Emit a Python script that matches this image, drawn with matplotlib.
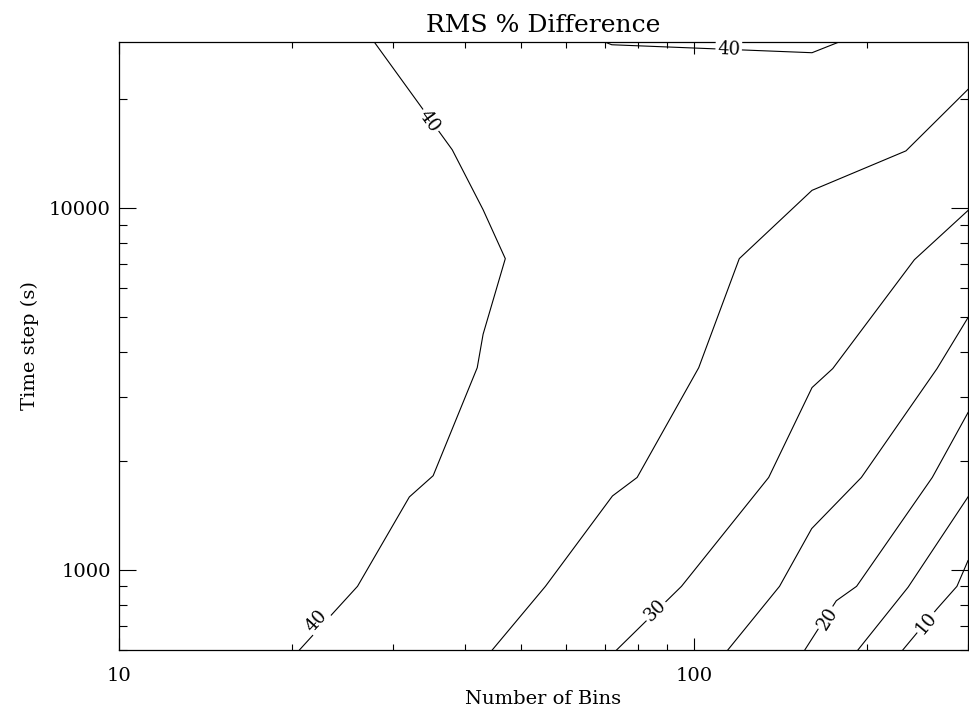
import numpy as np
import matplotlib
matplotlib.use("Agg")
import matplotlib.pyplot as plt
from matplotlib.ticker import FixedLocator, FixedFormatter, LogLocator, NullFormatter

plt.rcParams["font.family"] = ["DejaVu Serif"]

# contour paths: (number of bins, time step in s)
lev40a_bins = [27.8, 38, 43, 47, 43, 42, 35.2, 32, 26, 20.6]
lev40a_time = [28800, 14500, 9900, 7250, 4480, 3620, 1820, 1590, 900, 600]
lev40b_bins = [70, 72, 160.6, 179]
lev40b_time = [28800, 28300, 26900, 28800]
lev35_bins = [44.6, 55.2, 72.2, 79.7, 102, 120, 160.6, 234, 300]
lev35_time = [600, 900, 1600, 1800, 3620, 7250, 11200, 14400, 21300]
lev30_bins = [73.4, 95.2, 135, 160.6, 174.5, 242, 300]
lev30_time = [600, 900, 1800, 3190, 3600, 7200, 9850]
lev25_bins = [114.6, 141, 160.4, 195.7, 265, 300]
lev25_time = [600, 900, 1300, 1800, 3600, 4980]
lev20_bins = [156, 177, 192, 260, 300]
lev20_time = [600, 821, 900, 1800, 2720]
lev15_bins = [193, 236, 300]
lev15_time = [600, 895, 1590]
lev10_bins = [231, 265, 287, 300]
lev10_time = [600, 780, 900, 1060]

paths = [
    (lev40a_bins, lev40a_time), (lev40b_bins, lev40b_time),
    (lev35_bins, lev35_time), (lev30_bins, lev30_time),
    (lev25_bins, lev25_time), (lev20_bins, lev20_time),
    (lev15_bins, lev15_time), (lev10_bins, lev10_time),
]

# labels: text, position, index into paths
label_text = ["40", "40", "40", "30", "20", "10"]
label_bins = [34.7, 22.1, 115, 85.8, 171, 254]
label_time = [17400, 723, 27400, 770, 731, 713]
label_path = [0, 0, 1, 3, 5, 7]

x_ticks = [10, 100]
x_ticklabels = ["10", "100"]
y_ticks = [1000, 10000]
y_ticklabels = ["1000", "10000"]


def seg_angle(ax, xs, ys, x0, y0):
    pts = ax.transData.transform(np.column_stack([xs, ys]))
    p = ax.transData.transform((x0, y0))
    best, ang = None, 0.0
    for a, b in zip(pts[:-1], pts[1:]):
        d = b - a
        t = np.clip(np.dot(p - a, d) / np.dot(d, d), 0, 1)
        dist = np.hypot(*(a + t * d - p))
        if best is None or dist < best:
            best = dist
            ang = np.degrees(np.arctan2(d[1], d[0]))
    if ang > 90:
        ang -= 180
    elif ang <= -90:
        ang += 180
    return ang


fig = plt.figure(figsize=(9.69, 7.10), dpi=100)
ax = fig.add_axes([119 / 969, 60 / 710, 849 / 969, 608 / 710])
ax.set_xscale("log")
ax.set_yscale("log")
ax.set_xlim(10, 300)
ax.set_ylim(600, 28800)

for xs, ys in paths:
    ax.plot(xs, ys, color="black", lw=0.8, zorder=1)

for txt, xb, yt, k in zip(label_text, label_bins, label_time, label_path):
    rot = seg_angle(ax, paths[k][0], paths[k][1], xb, yt)
    ax.text(xb, yt, txt, fontsize=13, rotation=rot, rotation_mode="anchor",
            ha="center", va="center", zorder=3,
            bbox=dict(boxstyle="square,pad=0.1", fc="white", ec="none"))

ax.xaxis.set_major_locator(FixedLocator(x_ticks))
ax.xaxis.set_major_formatter(FixedFormatter(x_ticklabels))
ax.xaxis.set_minor_locator(LogLocator(base=10, subs=np.arange(2, 10)))
ax.xaxis.set_minor_formatter(NullFormatter())
ax.yaxis.set_major_locator(FixedLocator(y_ticks))
ax.yaxis.set_major_formatter(FixedFormatter(y_ticklabels))
ax.yaxis.set_minor_locator(LogLocator(base=10, subs=np.arange(2, 10)))
ax.yaxis.set_minor_formatter(NullFormatter())

ax.tick_params(which="both", direction="in", top=True, right=True,
               width=0.8, labelsize=14)
ax.tick_params(axis="x", which="major", length=8.6, pad=12)
ax.tick_params(axis="x", which="minor", length=4.3)
ax.tick_params(axis="y", which="major", length=12.2, pad=6)
ax.tick_params(axis="y", which="minor", length=6.1)
for s in ax.spines.values():
    s.set_linewidth(0.9)

ax.set_title("RMS % Difference", fontsize=18, pad=7)
ax.set_xlabel("Number of Bins", fontsize=14, labelpad=4)
ax.set_ylabel("Time step (s)", fontsize=14, labelpad=7)

fig.savefig("out.png", dpi=100)
